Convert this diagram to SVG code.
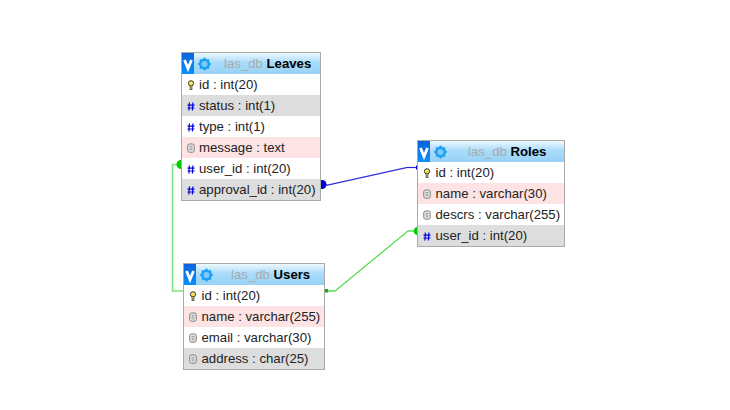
<svg xmlns="http://www.w3.org/2000/svg" width="730" height="410" viewBox="0 0 730 410">
<style>
text{font-family:"Liberation Sans",Arial,sans-serif;font-size:13.2px;fill:#222}
.t{fill:#000;font-weight:bold}
.db{fill:#aaa;font-weight:normal}
.f{fill:none;stroke:#aaa;stroke-width:1}
.pk{fill:#ddd}.pi{fill:#fde3e3}
.h{fill:none;stroke-width:1.600;stroke-opacity:.7}
.c{fill:none;stroke-width:.8}
</style>
<defs>
<linearGradient id="hg" x1="0" y1="0" x2="0" y2="1"><stop offset="0" stop-color="#eef8fe"/><stop offset=".45" stop-color="#a9dcfa"/><stop offset="1" stop-color="#98d2f6"/></linearGradient>
<linearGradient id="vg" x1="0" y1="0" x2="0" y2="1"><stop offset="0" stop-color="#0a62dc"/><stop offset="1" stop-color="#0a90fa"/></linearGradient>
<g id="hd">
<rect x="0" y="0" width="12" height="21" fill="url(#vg)"/>
<path d="M2.500 7L6 15.500L9.500 7" fill="none" stroke="#fff" stroke-width="2.800"/>
<circle cx="22.500" cy="11" r="4.300" fill="#7cc8f8" stroke="#1aa0f0" stroke-width="2.400"/>
<path d="M22.500 4.500v2M22.500 15.500v2M16 11h2M27 11h2M18 6.500l1.500 1.500M27 6.500l-1.500 1.500M18 15.500l1.500-1.500M27 15.500l-1.500-1.500" stroke="#1aa0f0" stroke-width="1.700"/>
</g>
<g id="key"><circle cx="0" cy="-2.200" r="2.600" fill="#f5e65a" stroke="#333" stroke-width="1"/><path d="M0 0V4.500" stroke="#333" stroke-width="2.600" fill="none"/><path d="M0 0V4" stroke="#f5e65a" stroke-width="1" fill="none"/></g>
<g id="hash"><path d="M-1.600 -4L-2.100 4M1.900 -4L1.400 4M-3.500 -1.400H3.500M-3.500 1.500H3.500" stroke="#00d" stroke-width="1.200" fill="none"/></g>
<g id="note"><rect x="-3.200" y="-4" width="6.400" height="8.200" rx="1.800" fill="#f4f4f4" stroke="#777" stroke-width="1"/><path d="M-1.600 -1.700H1.600M-1.600 .1H1.600M-1.600 1.900H1.600" stroke="#777" stroke-width=".8"/></g>
</defs>

<g id="connectors">
<path class="h" d="M323 185H328L407 167.500H418" stroke="#8f8fee"/>
<path class="c" d="M323 185H328L407 167.500H418" stroke="#0000cc"/>
<circle cx="322" cy="184.500" r="4.500" fill="#0000cc"/>
<rect x="416" y="165.500" width="2" height="4" fill="#0000cc"/>
<path class="h" d="M326 291H335L408 231H418" stroke="#88ee88"/>
<path class="c" d="M326 291H335L408 231H418" stroke="#22cc22"/>
<rect x="325" y="289" width="3" height="3.500" fill="#00bb00"/>
<circle cx="418" cy="231" r="4.300" fill="#00cc00"/>
<path class="h" d="M181 164.500H172.500V291H184" stroke="#44dd44"/>
<circle cx="181" cy="164.500" r="4.500" fill="#00cc00"/>
</g>

<g id="leaves">
<rect x="181.500" y="52.500" width="139" height="148" fill="#fff"/>
<rect x="182" y="53" width="138" height="21" fill="url(#hg)"/>
<use href="#hd" x="182" y="53"/>
<text class="t" x="224" y="68"><tspan class="db">las_db </tspan>Leaves</text>
<rect class="pk" x="182" y="95" width="138" height="21"/>
<rect class="pi" x="182" y="137" width="138" height="21"/>
<rect class="pk" x="182" y="179" width="138" height="21"/>
<use href="#key" x="191" y="85.500"/><text x="199" y="89">id : int(20)</text>
<use href="#hash" x="191" y="106.500"/><text x="199" y="110">status : int(1)</text>
<use href="#hash" x="191" y="127.500"/><text x="199" y="131">type : int(1)</text>
<use href="#note" x="191" y="148"/><text x="199" y="152">message : text</text>
<use href="#hash" x="191" y="169.500"/><text x="199" y="173">user_id : int(20)</text>
<use href="#hash" x="191" y="190.500"/><text x="199" y="194">approval_id : int(20)</text>
<rect class="f" x="181.500" y="52.500" width="139" height="148"/>
</g>

<g id="roles">
<rect x="417.500" y="140.500" width="147" height="106" fill="#fff"/>
<rect x="418" y="141" width="146" height="21" fill="url(#hg)"/>
<use href="#hd" x="418" y="141"/>
<text class="t" x="468" y="156"><tspan class="db">las_db </tspan>Roles</text>
<rect class="pi" x="418" y="183" width="146" height="21"/>
<rect class="pk" x="418" y="225" width="146" height="21"/>
<use href="#key" x="427" y="173.500"/><text x="435.500" y="177">id : int(20)</text>
<use href="#note" x="427" y="194"/><text x="435.500" y="198">name : varchar(30)</text>
<use href="#note" x="427" y="215"/><text x="435.500" y="219">descrs : varchar(255)</text>
<use href="#hash" x="427" y="236.500"/><text x="435.500" y="240">user_id : int(20)</text>
<rect class="f" x="417.500" y="140.500" width="147" height="106"/>
</g>

<g id="users">
<rect x="183.500" y="263.500" width="141" height="106" fill="#fff"/>
<rect x="184" y="264" width="140" height="21" fill="url(#hg)"/>
<use href="#hd" x="184" y="264"/>
<text class="t" x="231" y="279"><tspan class="db">las_db </tspan>Users</text>
<rect class="pi" x="184" y="306" width="140" height="21"/>
<rect class="pk" x="184" y="348" width="140" height="21"/>
<use href="#key" x="193" y="296.500"/><text x="201.500" y="300">id : int(20)</text>
<use href="#note" x="193" y="317"/><text x="201.500" y="321">name : varchar(255)</text>
<use href="#note" x="193" y="338"/><text x="201.500" y="342">email : varchar(30)</text>
<use href="#note" x="193" y="359"/><text x="201.500" y="363">address : char(25)</text>
<rect class="f" x="183.500" y="263.500" width="141" height="106"/>
</g>
</svg>
